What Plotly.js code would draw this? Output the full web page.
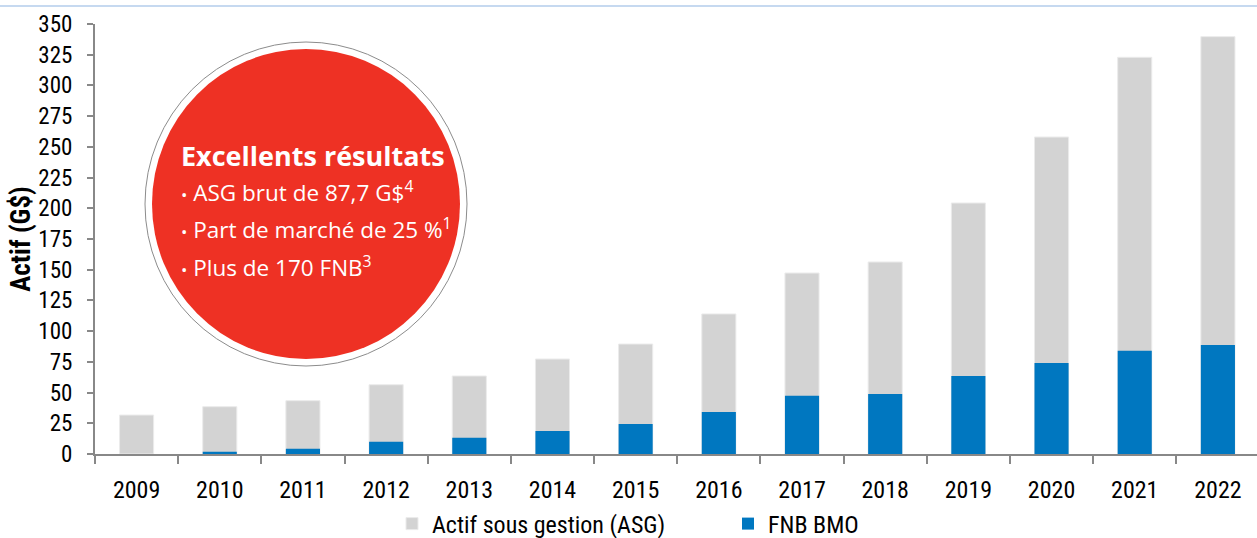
<!DOCTYPE html>
<html>
<head>
<meta charset="utf-8">
<script src="https://cdn.plot.ly/plotly-3.0.1.min.js"></script>
<style>html,body{margin:0;padding:0;background:#fff;}#chart{width:1257px;height:538px;}</style>
</head>
<body>
<div id="chart"></div>
<script>
const years = ["2009","2010","2011","2012","2013","2014","2015","2016","2017","2018","2019","2020","2021","2022"];
const asgTotal = [31.7, 38.5, 43.4, 56.4, 63.5, 77.3, 89.5, 114, 147.3, 156.3, 204.3, 258, 322.9, 339.7];
const fnbBmo = [0, 1.9, 4.3, 10, 13.3, 18.7, 24.4, 34.2, 47.5, 48.8, 63.5, 74, 84.1, 88.7];
const yTicks = [0,25,50,75,100,125,150,175,200,225,250,275,300,325,350];
const seriesNames = ["Actif sous gestion (ASG)", "FNB BMO"];
const yTitle = "Actif (G$)";
const calloutTitle = "Excellents résultats";
const calloutLines = ["ASG brut de 87,7 G$<sup>4</sup>", "Part de marché de 25 %<sup>1</sup>", "Plus de 170 FNB<sup>3</sup>"];

const FONT = "'Roboto Condensed', 'DejaVu Sans Condensed', sans-serif";
const CFONT = "'Open Sans', 'Noto Sans', sans-serif";

const traces = [
  {type:"bar", x: years, y: asgTotal, name: seriesNames[0],
   marker:{color:"#d3d3d3", line:{color:"#ebebeb", width:1}}, width:0.41},
  {type:"bar", x: years, y: fnbBmo, name: seriesNames[1],
   marker:{color:"#0077c0", line:{width:0}}, width:0.41}
];

const L = 95, T = 24, W = 1257, H = 538, B = 84;
const pw = W - L, ph = H - T - B;
function px(x){ return (x - L)/pw; }
function py(y){ return (H - B - y)/ph; }

const cx = px(306), cy = py(204);
const shapes = [
  {type:"line", xref:"paper", yref:"paper", x0:-L/pw, x1:1.05, y0:py(6), y1:py(6), line:{color:"#c6d9f0", width:2}},
  {type:"circle", xref:"paper", yref:"paper", xsizemode:"pixel", ysizemode:"pixel", xanchor:cx, yanchor:cy,
   x0:-161, x1:161, y0:-162, y1:162, fillcolor:"#ffffff", line:{color:"#8c8c8c", width:1}, layer:"above"},
  {type:"circle", xref:"paper", yref:"paper", xsizemode:"pixel", ysizemode:"pixel", xanchor:cx, yanchor:cy,
   x0:-154, x1:154, y0:-155, y1:155, fillcolor:"#ee3124", line:{width:0}, layer:"above"}
];

const bullet = "<span style='font-size:17px'>•</span> ";
const annotations = [
  {xref:"paper", yref:"paper", x:px(179), y:py(155), xanchor:"left", yanchor:"middle", showarrow:false,
   text:"<b>"+calloutTitle+"</b>", font:{family:CFONT, size:27, color:"#ffffff"}},
  {xref:"paper", yref:"paper", x:px(179), y:py(191), xanchor:"left", yanchor:"middle", showarrow:false,
   text:bullet+calloutLines[0], font:{family:CFONT, size:22.5, color:"#ffffff"}},
  {xref:"paper", yref:"paper", x:px(179), y:py(229), xanchor:"left", yanchor:"middle", showarrow:false,
   text:bullet+calloutLines[1], font:{family:CFONT, size:22.5, color:"#ffffff"}},
  {xref:"paper", yref:"paper", x:px(179), y:py(266), xanchor:"left", yanchor:"middle", showarrow:false,
   text:bullet+calloutLines[2], font:{family:CFONT, size:22.5, color:"#ffffff"}}
];

const layout = {
  width: W, height: H,
  margin:{l:L, r:0, t:T, b:B, pad:0, autoexpand:false},
  paper_bgcolor:"#ffffff", plot_bgcolor:"#ffffff",
  barmode:"overlay",
  font:{family:FONT, size:22, color:"#000000"},
  showlegend:true,
  legend:{orientation:"h", x:px(392), xanchor:"left", y:-(524-(H-B))/ph, yanchor:"middle",
          bgcolor:"rgba(0,0,0,0)", borderwidth:0,
          font:{family:FONT, size:24, color:"#000"}, entrywidth:291, itemwidth:30, traceorder:"normal"},
  xaxis:{type:"category", range:[-0.5, 13.47], showgrid:false, zeroline:false,
         showline:true, linecolor:"#888888", linewidth:2,
         ticks:"outside", tickson:"boundaries", ticklen:8, tickcolor:"#888888", tickwidth:2,
         tickfont:{family:FONT, size:24, color:"#000"}, ticklabelstandoff:13},
  yaxis:{range:[0,350], tickvals:yTicks, showgrid:false, zeroline:false,
         showline:true, linecolor:"#888888", linewidth:2,
         ticks:"outside", ticklen:6, tickcolor:"#888888", tickwidth:2,
         tickfont:{family:FONT, size:23, color:"#000"}, ticklabelstandoff:10,
         title:{text:"<b>"+yTitle+"</b>", font:{family:FONT, size:27, color:"#000"}, standoff:0}},
  shapes: shapes,
  annotations: annotations
};

Plotly.newPlot("chart", traces, layout, {displayModeBar:false, staticPlot:true});
</script>
</body>
</html>
